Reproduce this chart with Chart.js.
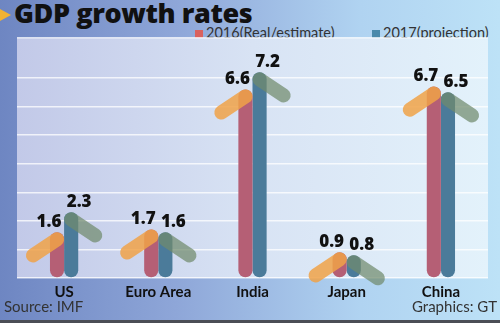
<!DOCTYPE html>
<html>
<head>
<meta charset="utf-8">
<script src="https://cdn.jsdelivr.net/npm/chart.js@4"></script>
<style>
body {
  margin: 0;
  width: 500px;
  height: 323px;
  overflow: hidden;
  position: relative;
  font-family: "Open Sans", sans-serif;
  background: linear-gradient(to right, #6e86c2 0%, #8ea6d8 35%, #b0d3f1 72%, #bde2f7 100%);
}
#chart { position: absolute; left: 0; top: 0; }
.title {
  position: absolute; left: 14px; top: -6px;
  font-size: 27px; font-weight: 800; color: #111; letter-spacing: -0.4px;
}
.pointer {
  position: absolute; left: 0; top: 9px; width: 0; height: 0;
  border-top: 6px solid transparent; border-bottom: 6px solid transparent;
  border-left: 11px solid #f2b232;
}
.legend { position: absolute; top: 24px; font-size: 14.5px; color: #333; font-family: "Lato", sans-serif; }
.legend i { display: inline-block; width: 8px; height: 8px; margin-right: 3px; }
.note { position: absolute; top: 297px; font-size: 15px; color: #333; font-family: "Lato", sans-serif; }
.strip { position: absolute; left: 0; top: 320px; width: 500px; height: 3px; background: #4b4e56; }
</style>
</head>
<body>
<div class="pointer"></div>
<div class="title">GDP growth rates</div>
<div class="legend" style="left:195px"><i style="background:#d9615e"></i>2016(Real/estimate)</div>
<div class="legend" style="left:372px"><i style="background:#4a8aab"></i>2017(projection)</div>
<canvas id="chart" width="500" height="323"></canvas>
<div class="note" style="left:4px">Source: IMF</div>
<div class="note" style="right:3px">Graphics: GT</div>
<div class="strip"></div>
<script>
const categories = ["US", "Euro Area", "India", "Japan", "China"];
const growth2016 = [1.6, 1.7, 6.6, 0.9, 6.7];
const growth2017 = [2.3, 1.6, 7.2, 0.8, 6.5];

// light panel behind the bars
const panel = {
  id: "panel",
  beforeDraw(chart) {
    const { ctx, chartArea: a } = chart;
    const g = ctx.createLinearGradient(a.left, 0, a.right, 0);
    g.addColorStop(0, "#c2c9e8");
    g.addColorStop(0.5, "#d8e3f4");
    g.addColorStop(1, "#e3f2fb");
    ctx.save();
    ctx.fillStyle = g;
    ctx.fillRect(a.left, a.top, a.right - a.left, a.bottom - a.top);
    ctx.restore();
  }
};

// arrow heads on each bar plus the value above it
const arrowHeads = {
  id: "arrowHeads",
  afterDatasetsDraw(chart) {
    const ctx = chart.ctx;
    ctx.save();
    ctx.lineCap = "round";
    chart.data.datasets.forEach((ds, i) => {
      const dir = i === 0 ? -1 : 1;
      chart.getDatasetMeta(i).data.forEach((bar) => {
        const cy = bar.y + bar.width / 2;
        ctx.strokeStyle = ds.arrowColor;
        ctx.lineWidth = bar.width;
        ctx.beginPath();
        ctx.moveTo(bar.x, cy);
        ctx.lineTo(bar.x + dir * 24, cy + 16);
        ctx.stroke();
      });
    });
    ctx.fillStyle = "#111";
    ctx.font = "800 17px 'Open Sans'";
    ctx.textAlign = "center";
    ctx.textBaseline = "middle";
    chart.data.datasets.forEach((ds, i) => {
      const dir = i === 0 ? -1 : 1;
      chart.getDatasetMeta(i).data.forEach((bar, j) => {
        ctx.fillText(ds.data[j].toFixed(1), bar.x + dir * 8, bar.y - 10);
      });
    });
    ctx.restore();
  }
};

new Chart(document.getElementById("chart"), {
  type: "bar",
  data: {
    labels: categories,
    datasets: [
      {
        label: "2016(Real/estimate)",
        data: growth2016,
        backgroundColor: "#b55f75",
        arrowColor: "rgba(240,162,72,0.85)"
      },
      {
        label: "2017(projection)",
        data: growth2017,
        backgroundColor: "#4b7b9a",
        arrowColor: "rgba(112,138,108,0.72)"
      }
    ]
  },
  options: {
    responsive: false,
    animation: false,
    categoryPercentage: 0.3,
    barPercentage: 1,
    borderRadius: 7,
    borderSkipped: false,
    layout: { padding: { left: 17, right: 12, top: 38, bottom: 0 } },
    plugins: { legend: { display: false }, tooltip: { enabled: false } },
    scales: {
      x: {
        grid: { display: false, drawTicks: false },
        border: { display: false },
        ticks: { color: "#111", padding: 5, font: { family: "Lato", weight: "bold", size: 15 } },
        afterFit: (s) => { s.height = 45; }
      },
      y: {
        min: 0,
        max: 8.4,
        ticks: { display: false, stepSize: 1 },
        grid: { color: "rgba(255,255,255,0.75)", lineWidth: 1.5, drawTicks: false },
        border: { display: false },
        afterFit: (s) => { s.width = 0; }
      }
    }
  },
  plugins: [panel, arrowHeads]
});
</script>
</body>
</html>
